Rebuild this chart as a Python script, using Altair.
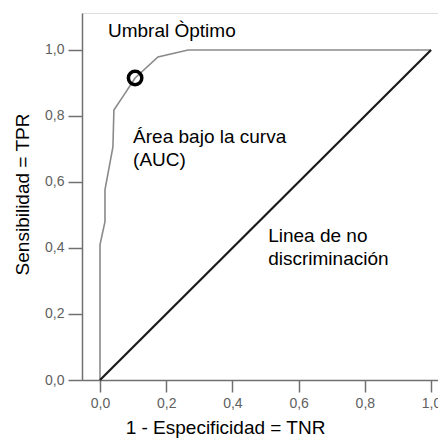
import altair as alt
import pandas as pd

# ROC curve points (1 - especificidad, sensibilidad)
roc_fpr = [0.0, 0.0, 0.015, 0.015, 0.039, 0.042, 0.07, 0.106, 0.175, 0.266, 1.0]
roc_tpr = [0.0, 0.41, 0.48, 0.576, 0.706, 0.818, 0.86, 0.915, 0.979, 1.0, 1.0]

diag_x = [0.0, 1.0]
diag_y = [0.0, 1.0]

opt_x = [0.106]
opt_y = [0.915]

tick_values = [0.0, 0.2, 0.4, 0.6, 0.8, 1.0]

ann_text = [["Umbral Òptimo"], ["Área bajo la curva", "(AUC)"], ["Linea de no", "discriminación"]]
ann_x = [0.024, 0.10, 0.508]
ann_y = [1.039, 0.718, 0.418]

roc_df = pd.DataFrame({"x": roc_fpr, "y": roc_tpr, "o": list(range(len(roc_fpr)))})
diag_df = pd.DataFrame({"x": diag_x, "y": diag_y, "o": [0, 1]})
opt_df = pd.DataFrame({"x": opt_x, "y": opt_y})
ann_df = pd.DataFrame({"x": ann_x, "y": ann_y, "t": ann_text})

FONT = "Liberation Sans"
label_expr = "replace(format(datum.value, '.1f'), '.', ',')"

xscale = alt.Scale(domain=[-0.0544, 1.021], nice=False, zero=False)
yscale = alt.Scale(domain=[0, 1.112], nice=False, zero=False)

xaxis = alt.Axis(
    values=tick_values, labelExpr=label_expr, grid=False,
    title="1 - Especificidad = TNR", titleFontSize=19, titleFont=FONT,
    titleFontWeight="normal", titleColor="#000000",
    titleX=143, titleY=53, titleAlign="center", titleBaseline="alphabetic",
    labelFontSize=14, labelFont=FONT, labelColor="#606060", labelPadding=4,
    tickSize=12, tickColor="#707070", tickWidth=1.5,
    domainColor="#707070", domainWidth=1.5, labelFlush=False,
)
yaxis = alt.Axis(
    values=tick_values, labelExpr=label_expr, grid=False,
    title="Sensibilidad = TPR", titleFontSize=19, titleFont=FONT,
    titleFontWeight="normal", titleColor="#000000",
    titleX=-60, titleY=181, titleAlign="center", titleBaseline="middle", titleAngle=270,
    labelFontSize=14, labelFont=FONT, labelColor="#606060", labelPadding=4,
    tickSize=14, tickColor="#707070", tickWidth=1.5,
    domainColor="#707070", domainWidth=1.5, labelFlush=False,
)

base_x = alt.X("x:Q", scale=xscale, axis=xaxis)
base_y = alt.Y("y:Q", scale=yscale, axis=yaxis)

roc = alt.Chart(roc_df).mark_line(color="#8a8a8a", strokeWidth=1.6, clip=True).encode(
    x=base_x, y=base_y, order="o:Q"
)
diag = alt.Chart(diag_df).mark_line(color="#1a1a1a", strokeWidth=2.2).encode(
    x=alt.X("x:Q", scale=xscale), y=alt.Y("y:Q", scale=yscale), order="o:Q"
)
opt = alt.Chart(opt_df).mark_point(
    shape="circle", filled=False, color="#000000", strokeWidth=3.5, size=180, opacity=1
).encode(x=alt.X("x:Q", scale=xscale), y=alt.Y("y:Q", scale=yscale))

ann = alt.Chart(ann_df).mark_text(
    align="left", baseline="alphabetic", fontSize=19, font=FONT, color="#000000", lineHeight=23
).encode(x=alt.X("x:Q", scale=xscale), y=alt.Y("y:Q", scale=yscale), text="t")

chart = alt.layer(roc, diag, opt, ann).properties(
    width=356, height=367,
    autosize=alt.AutoSizeParams(type="none"),
    padding={"left": 82, "top": 13, "right": 0, "bottom": 59},
).configure_view(stroke=None).configure(background="#ffffff")

chart.save("out.html", embed_options={"renderer": "svg", "actions": False})
